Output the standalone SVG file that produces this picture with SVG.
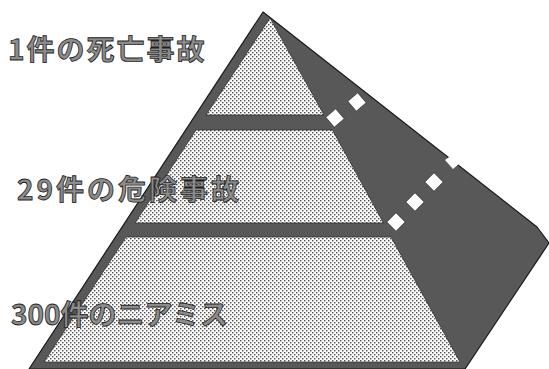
<svg xmlns="http://www.w3.org/2000/svg" width="549" height="369" viewBox="0 0 549 369">
<defs>
<pattern id="dots" width="4" height="4" patternUnits="userSpaceOnUse">
<rect width="4" height="4" fill="#ffffff"/>
<circle cx="0.8" cy="0.8" r="0.8" fill="#2a2a2a"/>
<circle cx="2.8" cy="2.8" r="0.8" fill="#2a2a2a"/>
</pattern>
<style>
.body{fill:#585858;stroke:#1a1a1a;stroke-width:1.2;stroke-linejoin:round}
.tier{fill:url(#dots);stroke:#333;stroke-width:0.8;stroke-linejoin:round}
.hole{fill:#ffffff;stroke:#1a1a1a;stroke-width:0.6}
.lbl{font-family:"Noto Sans CJK JP","Noto Sans",sans-serif;font-size:28px;font-weight:700;fill:#8c8c8c;stroke:#1e1e1e;stroke-width:0.8}
</style>
</defs>
<g id="pyramid">
<polygon class="body" points="263,12 537,227 549,243 465,369 29,369"/>
</g>
<g id="tier1">
<polygon class="tier" points="270,18 324,115 206,115"/>
</g>
<g id="tier2">
<polygon class="tier" points="196,130 332.5,130 383.5,223 135,223"/>
</g>
<g id="tier3">
<polygon class="tier" points="126,237 391,237 460,362 44,362"/>
</g>
<g id="holes">
<rect class="hole" x="-6.5" y="-6.5" width="13" height="13" transform="translate(335,118) rotate(-41)"/>
<rect class="hole" x="-6.5" y="-6.5" width="13" height="13" transform="translate(357,102) rotate(-41)"/>
<rect class="hole" x="-6.5" y="-6.5" width="13" height="13" transform="translate(396,222) rotate(-45)"/>
<rect class="hole" x="-6.5" y="-6.5" width="13" height="13" transform="translate(415,202) rotate(-45)"/>
<rect class="hole" x="-6.5" y="-6.5" width="13" height="13" transform="translate(434,182) rotate(-45)"/>
<polygon points="445,160 452,155 460,163 453,169" fill="#ffffff"/>
</g>
<g id="label1"><text class="lbl" x="8" y="60" style="letter-spacing:2px">1件の死亡事故</text></g>
<g id="label2"><text class="lbl" x="17" y="200" style="letter-spacing:3px">29件の危険事故</text></g>
<g id="label3"><text class="lbl" x="11" y="325" style="letter-spacing:0px">300件のニアミス</text></g>
</svg>
